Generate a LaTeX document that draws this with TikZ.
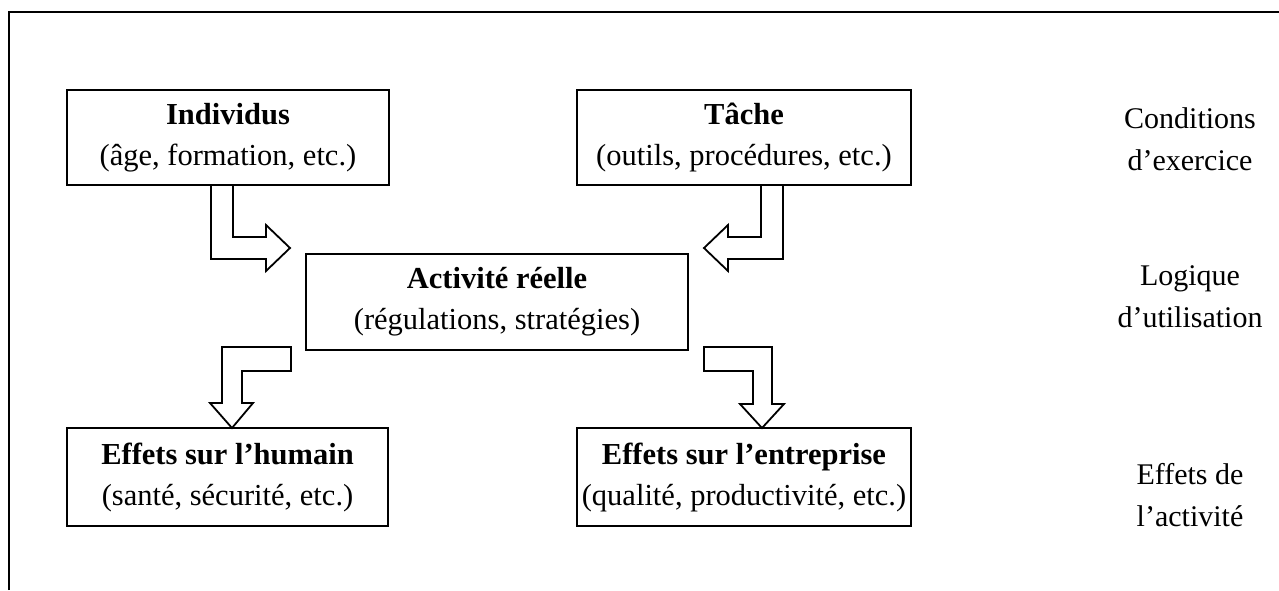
\documentclass[tikz,border=0pt]{standalone}
\usepackage{fontspec}
\setmainfont{Liberation Serif}
\begin{document}
\begin{tikzpicture}[x=1pt,y=-1pt,
  box/.style={draw,line width=2pt,align=center,inner sep=0pt,
    font=\fontsize{30.5}{41}\selectfont},
  side/.style={align=center,inner sep=0pt,font=\fontsize{30}{42}\selectfont},
  blockarrow/.style={draw,fill=white,line width=1.8pt,line join=miter}]
  \useasboundingbox (0,0) rectangle (1279,590);
  % open frame (top and left sides)
  \draw[line width=2.5pt] (9,590) -- (9,12) -- (1279,12);

  % boxes
  \node[box,minimum width=322pt,minimum height=95pt] (ind) at (228,137.5)
    {\textbf{Individus}\\(âge, formation, etc.)};
  \node[box,minimum width=334pt,minimum height=95pt] (tache) at (744,137.5)
    {\textbf{Tâche}\\(outils, procédures, etc.)};
  \node[box,minimum width=382pt,minimum height=96pt] (act) at (497,302)
    {\textbf{Activité réelle}\\(régulations, stratégies)};
  \node[box,minimum width=321pt,minimum height=98pt] (hum) at (227.5,477)
    {\textbf{Effets sur l’humain}\\(santé, sécurité, etc.)};
  \node[box,minimum width=334pt,minimum height=98pt] (ent) at (744,477)
    {\textbf{Effets sur l’entreprise}\\(qualité, productivité, etc.)};

  % side labels
  \node[side] (l1) at (1190,139) {Conditions\\d’exercice};
  \node[side] (l2) at (1190,297) {Logique\\d’utilisation};
  \node[side] (l3) at (1190,495) {Effets de\\l’activité};

  % block arrows
  \draw[blockarrow] (211,185) -- (233,185) -- (233,237) -- (266,237) -- (266,225)
    -- (290,248) -- (266,271) -- (266,259) -- (211,259) -- cycle;
  \draw[blockarrow] (761,185) -- (783,185) -- (783,259) -- (728,259) -- (728,271)
    -- (704,248) -- (728,225) -- (728,237) -- (761,237) -- cycle;
  \draw[blockarrow] (222,347) -- (291,347) -- (291,371) -- (242,371) -- (242,403)
    -- (253,403) -- (232,428) -- (210,403) -- (222,403) -- cycle;
  \draw[blockarrow] (704,347) -- (772,347) -- (772,404) -- (784,404) -- (762,428)
    -- (740,404) -- (753,404) -- (753,371) -- (704,371) -- cycle;
\end{tikzpicture}
\end{document}
